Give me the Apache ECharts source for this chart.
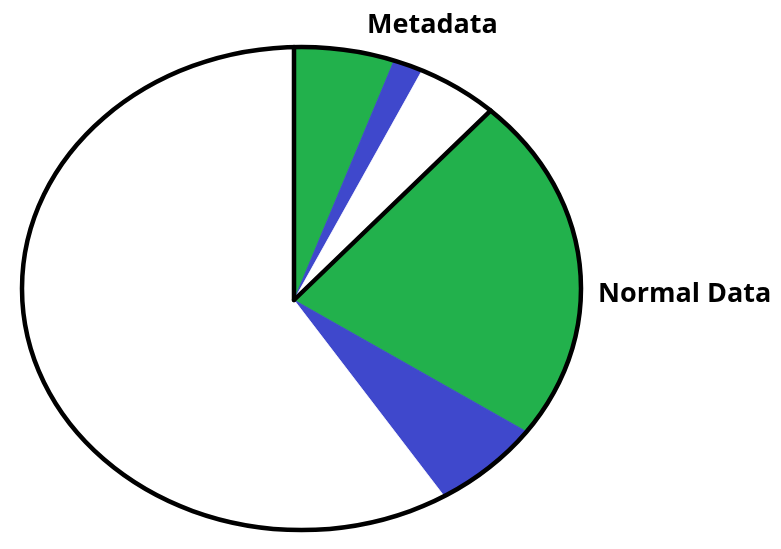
<!DOCTYPE html>
<html><head><meta charset="utf-8">
<script src="https://cdn.jsdelivr.net/npm/echarts@6/dist/echarts.min.js"></script>
<style>html,body{margin:0;padding:0;background:#fff}#c{width:781px;height:549px}</style>
</head><body><div id="c"></div>
<script>
// Slices, clockwise from 12 o'clock (percent of the whole)
const categories = ['Normal Data', 'Metadata', 'Free Space', 'Normal Data', 'Metadata', 'Free Space'];
const values = [6.3, 1.8, 4.7, 20.4, 6.4, 60.4];
const labelTexts = ['Metadata', 'Normal Data'];

// styling
const colorByCategory = { 'Normal Data': '#22b14c', 'Metadata': '#3f48cc', 'Free Space': '#ffffff' };
const ELL = { cx: 301.5, cy: 288.5, rx: 279.5, ry: 241.5 };
const APEX = { x: 294, y: 300 };

const total = values.reduce((a, b) => a + b, 0);
const cum = [];
values.reduce((acc, v, i) => { cum[i] = acc; return acc + v; }, 0);
const seriesData = values.map((v, i) => [cum[i], cum[i] + v, i]);

function hit(theta) {
  const dx = Math.sin(theta), dy = -Math.cos(theta);
  const px = (APEX.x - ELL.cx) / ELL.rx, py = (APEX.y - ELL.cy) / ELL.ry;
  const qx = dx / ELL.rx, qy = dy / ELL.ry;
  const a = qx * qx + qy * qy, b = 2 * (px * qx + py * qy), c = px * px + py * py - 1;
  const t = (-b + Math.sqrt(b * b - 4 * a * c)) / (2 * a);
  return [APEX.x + t * dx, APEX.y + t * dy];
}

function renderItem(params, api) {
  const s = api.value(0), e = api.value(1), idx = api.value(2);
  const a0 = s / total * 2 * Math.PI, a1 = e / total * 2 * Math.PI;
  const cat = categories[idx];
  const col = colorByCategory[cat];
  const pts = [[APEX.x, APEX.y]];
  const n = Math.max(2, Math.ceil((a1 - a0) / 0.005));
  for (let i = 0; i <= n; i++) pts.push(hit(a0 + (a1 - a0) * i / n));
  const children = [{
    type: 'polygon', z2: 1, shape: { points: pts },
    style: { fill: col, stroke: col, lineWidth: 0.8 }
  }];
  if (cat === 'Normal Data') {
    const p = hit(a0);
    children.push({
      type: 'line', z2: 20,
      shape: { x1: APEX.x, y1: APEX.y, x2: p[0], y2: p[1] },
      style: { stroke: '#000', lineWidth: 4.5, lineCap: 'round' }
    });
  }
  return { type: 'group', children: children };
}

const chart = echarts.init(document.getElementById('c'), null, { renderer: 'canvas' });
chart.setOption({
  animation: false,
  backgroundColor: '#ffffff',
  series: [{
    type: 'custom',
    coordinateSystem: 'none',
    renderItem: renderItem,
    data: seriesData
  }],
  graphic: [
    {
      type: 'ellipse', z: 100, silent: true,
      shape: { cx: ELL.cx, cy: ELL.cy, rx: ELL.rx, ry: ELL.ry },
      style: { fill: null, stroke: '#000', lineWidth: 4.5 }
    },
    {
      type: 'text', z: 100, x: 367, y: 25,
      style: { text: labelTexts[0], font: 'bold 27px "Open Sans"', fill: '#000', textAlign: 'left', textVerticalAlign: 'middle' }
    },
    {
      type: 'text', z: 100, x: 598, y: 294,
      style: { text: labelTexts[1], font: 'bold 27px "Open Sans"', fill: '#000', textAlign: 'left', textVerticalAlign: 'middle' }
    }
  ]
});
</script>
</body></html>
